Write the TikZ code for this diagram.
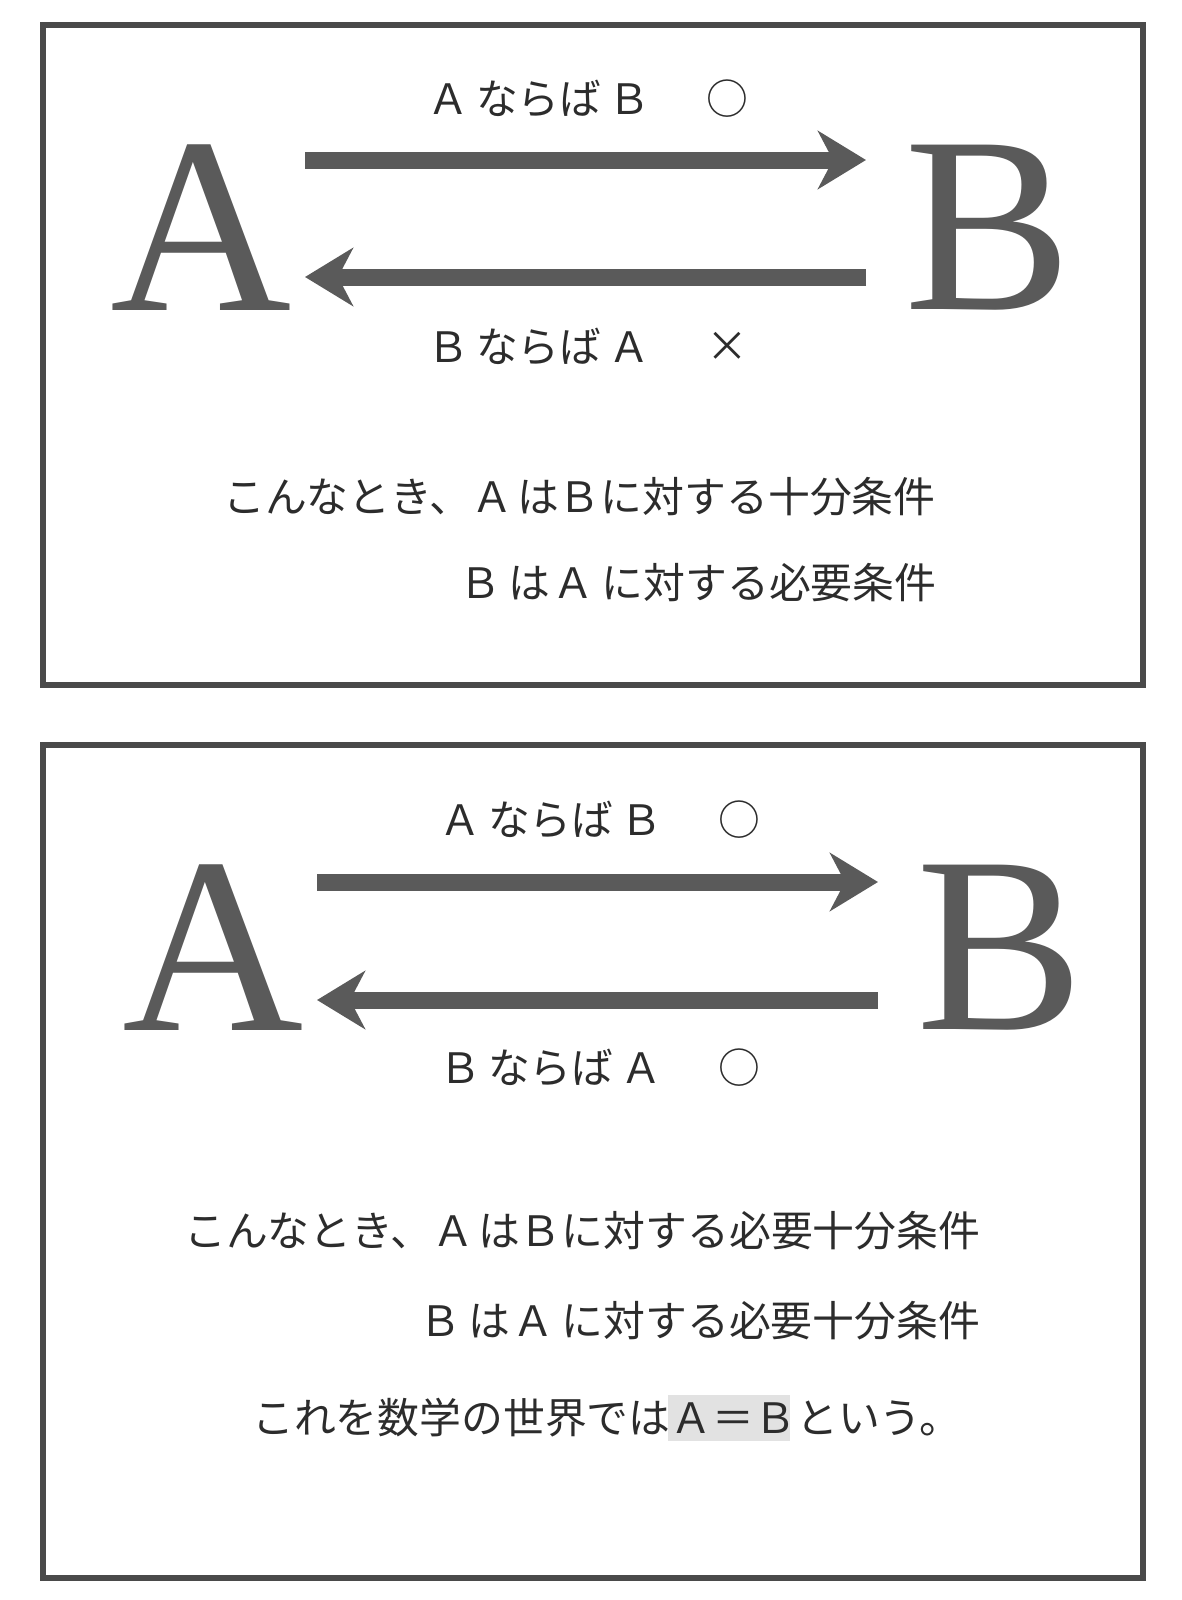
\documentclass[tikz,border=0pt]{standalone}
\usepackage{fontspec}
\setmainfont{Liberation Serif}
\newfontfamily\jp{Noto Sans CJK JP}
\usetikzlibrary{arrows.meta}
\definecolor{inkgray}{HTML}{5A5A5A}
\definecolor{framegray}{HTML}{4A4A4A}
\definecolor{textgray}{HTML}{2C2C2C}
\definecolor{hilite}{HTML}{E2E2E2}
\newcommand{\gp}{\hspace{7bp}}
\tikzset{
  frame/.style={draw=framegray, line width=6bp},
  bigletter/.style={inner sep=0pt, text=inkgray, font=\fontsize{252}{252}\selectfont},
  jtext/.style={inner sep=0pt, text=textgray, font=\jp\fontsize{42}{42}\selectfont},
  bigarrow/.style={draw=inkgray, line width=17bp, -{Stealth[length=48bp, width=58bp, inset=15bp]}, shorten >=0pt},
}
\begin{document}
\begin{tikzpicture}[x=1bp, y=-1bp]
\useasboundingbox (0,0) rectangle (1181,1600);
% ---------- top panel ----------
\draw[frame] (43,25) rectangle (1143,685);
\node[bigletter] (A1) at (201,228) {A};
\node[bigletter] (B1) at (988,228) {B};
\coordinate (a1s) at (305,160);
\coordinate (a1e) at (866,160);
\coordinate (b1s) at (866,277);
\coordinate (b1e) at (305,277);
\draw[bigarrow] (a1s) -- (a1e);
\draw[bigarrow] (b1s) -- (b1e);
\node[jtext, anchor=west] (t1) at (427,99) {Ａ\gp ならば\gp Ｂ};
\node[jtext] (t1m) at (727,99) {○};
\node[jtext, anchor=west] (t2) at (427,347) {Ｂ\gp ならば\gp Ａ};
\node[jtext] (t2m) at (727,347) {×};
\node[jtext, anchor=west] (t3) at (223,497) {こんなとき、Ａ\hspace{4bp}はＢに対する十分条件};
\node[jtext, anchor=west] (t4) at (459,583) {Ｂ\gp は\hspace{3bp}Ａ\gp に対する必要条件};
% ---------- bottom panel ----------
\draw[frame] (43,745) rectangle (1143,1578);
\node[bigletter] (A2) at (213,948) {A};
\node[bigletter] (B2) at (1000,948) {B};
\coordinate (a2s) at (317,882);
\coordinate (a2e) at (878,882);
\coordinate (b2s) at (878,1000);
\coordinate (b2e) at (317,1000);
\draw[bigarrow] (a2s) -- (a2e);
\draw[bigarrow] (b2s) -- (b2e);
\node[jtext, anchor=west] (u1) at (439,820) {Ａ\gp ならば\gp Ｂ};
\node[jtext] (u1m) at (739,820) {○};
\node[jtext, anchor=west] (u2) at (439,1068) {Ｂ\gp ならば\gp Ａ};
\node[jtext] (u2m) at (739,1068) {○};
\node[jtext, anchor=west] (u3) at (184,1231) {こんなとき、Ａ\hspace{4bp}はＢに対する必要十分条件};
\node[jtext, anchor=west] (u4) at (419,1321) {Ｂ\gp は\hspace{3bp}Ａ\gp に対する必要十分条件};
\fill[hilite] (668,1395) rectangle (790,1441);
\node[jtext, anchor=west] (u5) at (252,1418) {これを数学の世界ではＡ＝Ｂという。};
\end{tikzpicture}
\end{document}
